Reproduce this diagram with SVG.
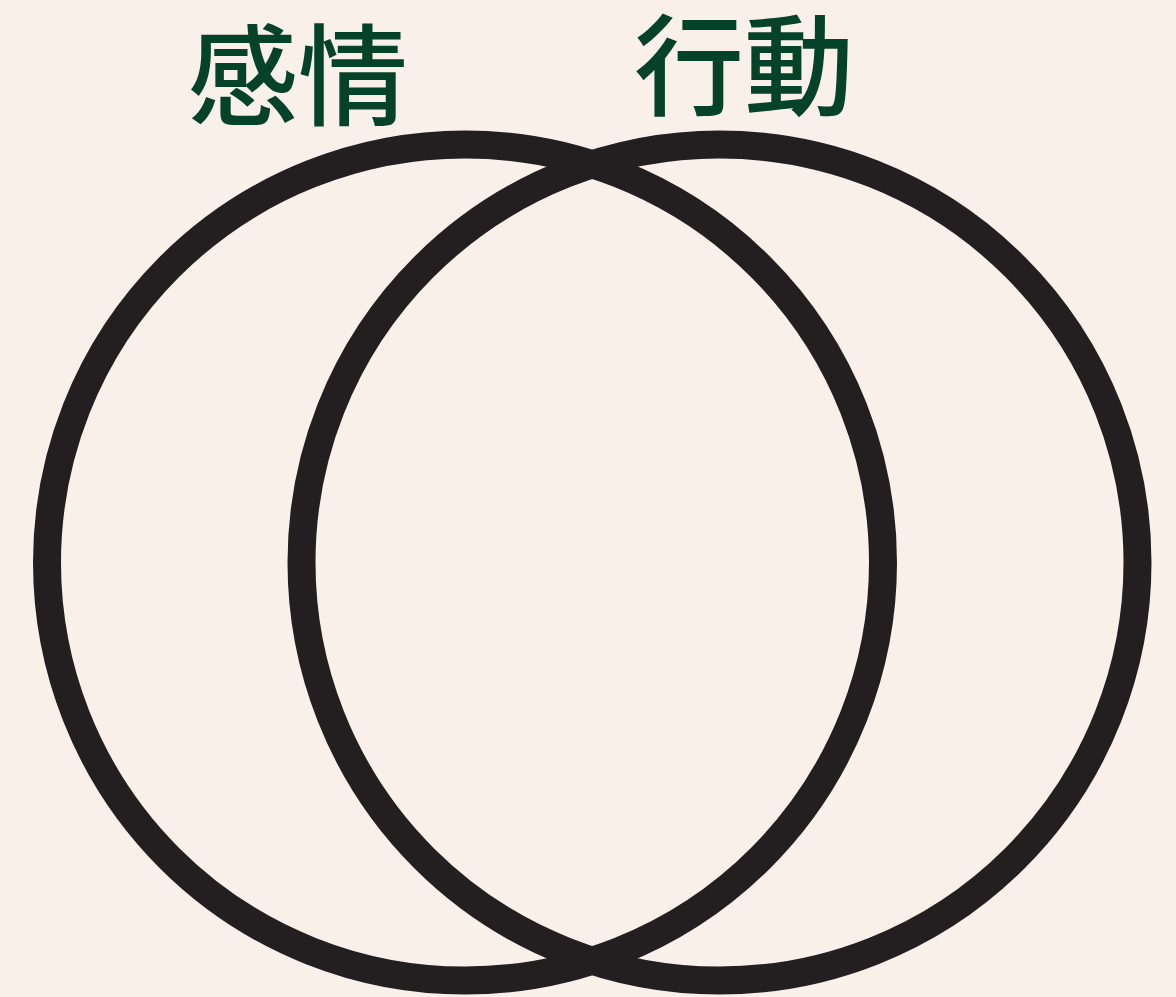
<svg xmlns="http://www.w3.org/2000/svg" width="1176" height="997" viewBox="0 0 1176 997">
<style>
.c{fill:none;stroke:#231f20;stroke-width:28}
.t{font-family:"Noto Sans CJK JP","Noto Sans CJK SC",sans-serif;font-size:110px;font-weight:500;fill:#05422a;text-anchor:middle}
</style>
<rect width="1176" height="997" fill="#f9f0ea"/>
<g id="connectors"/>
<g id="left-circle"><circle class="c" cx="465" cy="562.5" r="418"/></g>
<g id="right-circle"><circle class="c" cx="719.5" cy="562.5" r="418"/></g>
<g id="label-emotion"><text class="t" x="298" y="117">感情</text></g>
<g id="label-action"><text class="t" x="744" y="107">行動</text></g>
</svg>
